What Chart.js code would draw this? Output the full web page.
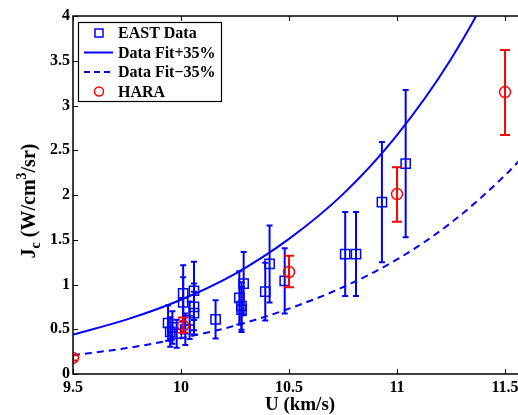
<!DOCTYPE html>
<html><head><meta charset="utf-8">
<script src="https://cdn.jsdelivr.net/npm/chart.js@4/dist/chart.umd.min.js"></script>
<style>
html,body{margin:0;padding:0;background:#fff;overflow:hidden;}
canvas{display:block;}
</style></head><body>
<canvas id="c" width="518" height="415" style="width:518px;height:415px"></canvas>
<script>
// Axis ticks
const xTicks = [9.5, 10, 10.5, 11, 11.5];
const yTicks = [0, 0.5, 1, 1.5, 2, 2.5, 3, 3.5, 4];

// EAST measurements: velocity U (km/s) and Jc (W/cm^3/sr), ±35% uncertainty
const eastU = [9.94, 9.95, 9.96, 9.98, 10.01, 10.01, 10.02, 10.04, 10.06, 10.06, 10.06, 10.16,
               10.27, 10.28, 10.28, 10.29, 10.39, 10.41, 10.48, 10.76, 10.81, 10.93, 11.04];
const eastJ = [0.57, 0.47, 0.52, 0.45, 0.90, 0.80, 0.50, 0.60, 0.93, 0.75, 0.68, 0.61,
               0.85, 0.72, 0.76, 1.01, 0.92, 1.23, 1.04, 1.34, 1.34, 1.92, 2.35];
const eastRelErr = 0.35;

// HARA points with lower / upper bounds
const haraU    = [9.50, 10.01, 10.50, 11.00, 11.50];
const haraJ    = [0.18, 0.54, 1.14, 2.01, 3.15];
const haraLow  = [0.15, 0.46, 0.97, 1.70, 2.67];
const haraHigh = [0.21, 0.63, 1.32, 2.31, 3.62];

// Fit curve +35% and -35%
const fitU    = [9.5, 9.75, 10, 10.25, 10.5, 10.75, 11, 11.25, 11.5, 11.6];
const fitPlus = [0.44, 0.61, 0.83, 1.12, 1.51, 2.01, 2.67, 3.52, 4.61, 5.13];
const fitMinus= [0.21, 0.29, 0.40, 0.54, 0.73, 0.97, 1.28, 1.69, 2.22, 2.47];

const BLUE = '#0000ff', RED = '#ff0000';
const FONT = '"Liberation Serif", "Times New Roman", serif';

const pts = (xs, ys) => xs.map((v, i) => ({x: v, y: ys[i]}));

// The plot box runs to the right edge of the canvas, past the last tick label
const stretchRight = {
  id: 'stretchRight',
  afterLayout(chart) {
    const x = chart.scales.x;
    const a = chart.chartArea;
    a.right = chart.width;
    a.width = a.right - a.left;
    x.right = chart.width;
    x.width = x.right - x.left;
    x.configure();
    x._labelItems = null;
    x._gridLineItems = null;
  }
};

// Error bars drawn under each dataset's markers; everything clipped to the plot box
const errorBars = {
  id: 'errorBars',
  beforeDatasetDraw(chart, args) {
    const ds = chart.data.datasets[args.index];
    const {ctx, chartArea: a, scales: {x, y}} = chart;
    ctx.save();
    ctx.beginPath();
    ctx.rect(a.left, a.top, a.right - a.left, a.bottom - a.top);
    ctx.clip();
    if (!ds.errLow) return;
    ctx.save();
    ctx.strokeStyle = ds.borderColor;
    ctx.lineWidth = ds.errWidth;
    ds.data.forEach((p, i) => {
      const px = x.getPixelForValue(p.x);
      const y1 = y.getPixelForValue(ds.errLow[i]);
      const y2 = y.getPixelForValue(ds.errHigh[i]);
      const c = ds.capHalf;
      ctx.beginPath();
      ctx.moveTo(px, y1); ctx.lineTo(px, y2);
      ctx.moveTo(px - c, y1); ctx.lineTo(px + c, y1);
      ctx.moveTo(px - c, y2); ctx.lineTo(px + c, y2);
      ctx.stroke();
    });
    ctx.restore();
  },
  afterDatasetDraw(chart) {
    chart.ctx.restore();
  }
};

const frame = {
  id: 'frame',
  afterDatasetsDraw(chart) {
    const {ctx, chartArea: a, scales: {x, y}} = chart;
    ctx.save();
    ctx.strokeStyle = '#000';
    ctx.lineWidth = 1.5;
    ctx.beginPath();
    ctx.moveTo(a.right + 2, a.top); ctx.lineTo(a.left, a.top);
    ctx.lineTo(a.left, a.bottom); ctx.lineTo(a.right + 2, a.bottom);
    ctx.stroke();
    ctx.lineWidth = 1;
    ctx.beginPath();
    const tl = 5;
    xTicks.forEach(v => {
      const px = Math.round(x.getPixelForValue(v)) + 0.5;
      ctx.moveTo(px, a.bottom); ctx.lineTo(px, a.bottom - tl);
      ctx.moveTo(px, a.top); ctx.lineTo(px, a.top + tl);
    });
    yTicks.forEach(v => {
      const py = Math.round(y.getPixelForValue(v)) + 0.5;
      ctx.moveTo(a.left, py); ctx.lineTo(a.left + tl, py);
    });
    ctx.stroke();
    ctx.restore();
  }
};

const titles = {
  id: 'titles',
  afterDraw(chart) {
    const ctx = chart.ctx;
    ctx.save();
    ctx.fillStyle = '#000';
    // x title
    ctx.font = 'bold 19px ' + FONT;
    ctx.textAlign = 'center';
    ctx.textBaseline = 'alphabetic';
    ctx.fillText('U (km/s)', 300, 410);
    // y title with subscript and superscript
    const parts = [
      {t: 'J', s: 20, dy: 0},
      {t: 'c', s: 14, dy: 5},
      {t: ' (W/cm', s: 20, dy: 0},
      {t: '3', s: 14, dy: -9},
      {t: '/sr)', s: 20, dy: 0}
    ];
    let w = 0;
    parts.forEach(p => { ctx.font = 'bold ' + p.s + 'px ' + FONT; p.w = ctx.measureText(p.t).width; w += p.w; });
    ctx.translate(35, 201);
    ctx.rotate(-Math.PI / 2);
    ctx.textAlign = 'left';
    let cx = -w / 2;
    parts.forEach(p => {
      ctx.font = 'bold ' + p.s + 'px ' + FONT;
      ctx.fillText(p.t, cx, p.dy);
      cx += p.w;
    });
    ctx.restore();
  }
};

const legendBox = {
  id: 'legendBox',
  afterDraw(chart) {
    const ctx = chart.ctx;
    ctx.save();
    ctx.fillStyle = '#fff';
    ctx.fillRect(78, 22, 144, 80);
    ctx.strokeStyle = '#000';
    ctx.lineWidth = 1.2;
    ctx.strokeRect(78.5, 22.5, 143, 79);
    const rows = [33, 52.5, 72, 91.5];
    const mx = 99, tx = 118;
    // square
    ctx.strokeStyle = BLUE; ctx.lineWidth = 1.5;
    ctx.strokeRect(mx - 4, rows[0] - 4, 8, 8);
    // solid line
    ctx.lineWidth = 2;
    ctx.beginPath(); ctx.moveTo(84, rows[1]); ctx.lineTo(113, rows[1]); ctx.stroke();
    // dashed line
    ctx.setLineDash([6, 4]);
    ctx.beginPath(); ctx.moveTo(84, rows[2]); ctx.lineTo(114, rows[2]); ctx.stroke();
    ctx.setLineDash([]);
    // circle
    ctx.strokeStyle = RED; ctx.lineWidth = 1.5;
    ctx.beginPath(); ctx.arc(mx, rows[3], 4.5, 0, Math.PI * 2); ctx.stroke();
    ctx.fillStyle = '#000';
    ctx.font = 'bold 16px ' + FONT;
    ctx.textAlign = 'left';
    ctx.textBaseline = 'middle';
    const labels = ['EAST Data', 'Data Fit+35%', 'Data Fit\u221235%', 'HARA'];
    labels.forEach((l, i) => ctx.fillText(l, tx, rows[i] + 1));
    ctx.restore();
  }
};

const tickFont = {family: FONT, size: 16, weight: 'bold'};

new Chart(document.getElementById('c'), {
  type: 'scatter',
  data: {
    datasets: [
      {
        label: 'HARA',
        data: pts(haraU, haraJ),
        errLow: haraLow, errHigh: haraHigh, errWidth: 2, capHalf: 5,
        pointStyle: 'circle', pointRadius: 5.5,
        borderColor: RED, backgroundColor: 'rgba(0,0,0,0)', borderWidth: 1.5,
        clip: 0
      },
      {
        label: 'Data Fit+35%',
        data: pts(fitU, fitPlus),
        showLine: true, pointRadius: 0, borderColor: BLUE, borderWidth: 2,
        cubicInterpolationMode: 'monotone', clip: 0
      },
      {
        label: 'Data Fit\u221235%',
        data: pts(fitU, fitMinus),
        showLine: true, pointRadius: 0, borderColor: BLUE, borderWidth: 2,
        borderDash: [7, 5], cubicInterpolationMode: 'monotone', clip: 0
      },
      {
        label: 'EAST Data',
        data: pts(eastU, eastJ),
        errLow: eastJ.map(v => v * (1 - eastRelErr)),
        errHigh: eastJ.map(v => v * (1 + eastRelErr)),
        errWidth: 2, capHalf: 3,
        pointStyle: 'rect', pointRadius: 6.5,
        borderColor: BLUE, backgroundColor: 'rgba(0,0,0,0)', borderWidth: 1.5,
        clip: 0
      }
    ]
  },
  options: {
    responsive: false,
    animation: false,
    devicePixelRatio: 1,
    events: [],
    layout: {padding: {top: 16, left: 0, right: 0, bottom: 0}},
    plugins: {legend: {display: false}, tooltip: {enabled: false}},
    scales: {
      x: {
        type: 'linear', min: 9.5, max: 11.56,
        afterBuildTicks: s => { s.ticks = xTicks.map(v => ({value: v})); },
        afterFit: s => { s.height = 41; },
        grid: {display: false, drawTicks: false},
        border: {display: false},
        ticks: {font: tickFont, color: '#000', padding: 4, maxRotation: 0, autoSkip: false,
                callback: v => String(v)}
      },
      y: {
        type: 'linear', min: 0, max: 4,
        afterBuildTicks: s => { s.ticks = yTicks.map(v => ({value: v})); },
        afterFit: s => { s.width = 73; },
        grid: {display: false, drawTicks: false},
        border: {display: false},
        ticks: {font: tickFont, color: '#000', padding: 3, autoSkip: false,
                callback: v => String(v)}
      }
    }
  },
  plugins: [stretchRight, errorBars, frame, titles, legendBox]
});
</script>
</body></html>
